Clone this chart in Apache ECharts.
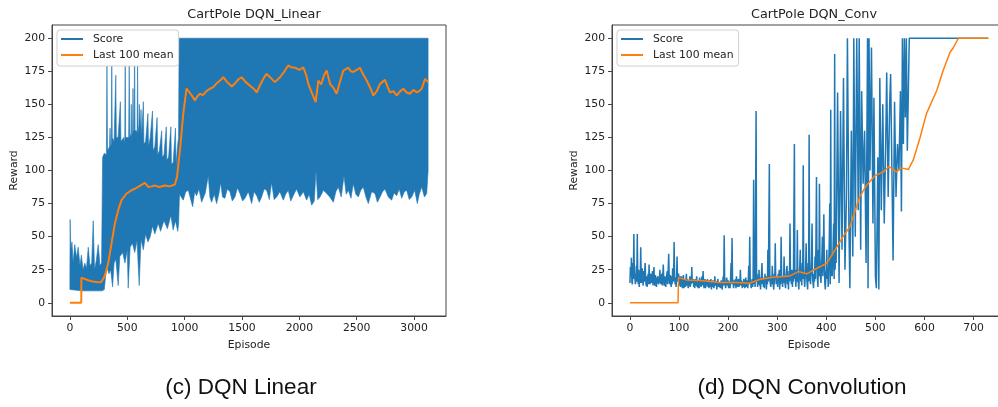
<!DOCTYPE html>
<html><head><meta charset="utf-8">
<script src="https://cdn.jsdelivr.net/npm/echarts@6/dist/echarts.min.js"></script>
<style>html,body{margin:0;padding:0;background:#fff}#c{width:998px;height:407px}</style>
</head><body><div id="c"></div>
<script>
// ---------- DATA ----------
const xTicksLinear = [0, 500, 1000, 1500, 2000, 2500, 3000];
const xTicksConv = [0, 100, 200, 300, 400, 500, 600, 700];
const yTicks = [0, 25, 50, 75, 100, 125, 150, 175, 200];

// DQN Linear: upper envelope of Score [episode, reward]
const linScoreHigh = [[0,25],[2,63],[8,40],[18,46],[28,30],[42,44],[58,34],[72,42],[88,28],[100,36],[115,25],[130,30],[145,26],[160,42],[175,28],[190,30],[203,62],[215,25],[230,32],[247,44],[262,28],[276,30],[285,110],[300,113],[318,112],[323,180],[328,115],[345,118],[350,132],[355,118],[361,120],[365,190],[369,125],[385,122],[400,172],[405,125],[420,125],[440,152],[445,122],[470,125],[478,120],[482,195],[486,125],[505,125],[512,125],[517,180],[522,125],[532,128],[535,150],[538,125],[546,130],[550,162],[554,130],[560,130],[564,200],[568,130],[580,130],[586,128],[590,182],[594,128],[602,135],[605,150],[615,130],[620,146],[625,125],[640,152],[645,120],[660,122],[680,143],[685,118],[700,125],[720,145],[725,115],[740,118],[760,140],[765,112],[780,115],[800,130],[805,110],[820,112],[840,133],[845,108],[860,110],[880,133],[885,105],[900,106],[920,132],[925,104],[940,120],[947,125],[952,200],[3122,200]];
// DQN Linear: lower envelope of Score
const linScoreLow = [[0,10],[100,9],[200,9],[280,9],[300,10],[320,28],[340,22],[355,25],[372,12],[385,30],[400,33],[421,13],[435,35],[460,38],[480,30],[500,40],[508,11],[525,42],[545,45],[565,38],[585,47],[604,13],[620,48],[640,40],[660,52],[680,46],[700,50],[720,58],[740,52],[770,60],[790,54],[820,62],[850,56],[880,66],[900,55],[920,62],[940,54],[948,60],[955,82],[988,77.6],[1010,84],[1032,85],[1050,79],[1070,72.6],[1088,84],[1104,81],[1125,86],[1148,76],[1180,83],[1206,96],[1220,80],[1235,76],[1258,82],[1279,75],[1300,83],[1314,91],[1330,80],[1351,79],[1372,86],[1395,84],[1415,77],[1439,80],[1460,87],[1482,82.6],[1505,77],[1526,79],[1555,84],[1584,75],[1605,84],[1628,81],[1650,76],[1671,80],[1693,86],[1715,85],[1738,78],[1758,91],[1780,78],[1802,80],[1830,84],[1860,77.6],[1880,82],[1903,85],[1925,77],[1947,81],[1975,86],[2005,80],[2035,84],[2063,77.6],[2085,82],[2107,73.8],[2130,77],[2145,100],[2160,78],[2180,80],[2210,85],[2238,82.6],[2265,80],[2296,76],[2318,84],[2339,87.5],[2365,80],[2389,96],[2408,82],[2427,85],[2450,79],[2470,90],[2492,82],[2514,80],[2535,85],[2557,87.5],[2580,80],[2601,75],[2630,84],[2659,82.6],[2680,76],[2703,80],[2725,84],[2746,86],[2775,80],[2805,77.6],[2825,83],[2848,81],[2870,86],[2892,79],[2915,84],[2935,85],[2958,78],[2979,80],[3005,85],[3028,75],[3045,82],[3066,87.5],[3090,80],[3110,82.6],[3122,100]];
// DQN Linear: Last 100 mean
const linMean = [[0,0],[99,0],[100,19],[130,18],[160,17],[200,16],[240,15.5],[270,15.5],[291,18],[310,22],[334,30],[363,45],[392,60],[421,70],[450,77.6],[494,82.6],[537,85],[560,86],[596,87.6],[620,89],[654,90.7],[683,87.6],[710,88],[741,88.6],[780,87.5],[828,88.6],[870,88],[915,89.4],[933,95],[959,115],[988,143],[1017,162],[1032,162.5],[1060,157],[1090,153],[1110,156],[1133,158],[1160,157],[1190,160],[1221,161.8],[1250,163],[1280,166],[1310,168],[1337,170.5],[1370,167],[1410,163.5],[1440,166],[1470,169],[1497,170.5],[1530,167],[1570,164],[1600,162],[1628,159],[1660,165],[1690,170],[1715,173],[1750,170],[1787,166.8],[1831,170.5],[1870,175],[1903,179.4],[1930,178],[1962,177.7],[2000,176],[2034,178],[2060,172],[2078,165.5],[2107,159],[2142,151.7],[2165,168],[2190,165],[2215,172],[2238,175.6],[2267,165.5],[2300,162],[2325,158],[2350,166],[2383,175.6],[2427,177.7],[2450,175],[2470,174.5],[2500,176],[2528,177.7],[2560,172],[2587,168],[2620,162],[2645,156.7],[2675,160],[2703,165.5],[2746,168.5],[2770,163],[2790,159],[2820,160],[2848,156.7],[2880,160],[2906,161.8],[2935,159],[2964,158],[2995,161],[3023,159],[3045,160],[3066,161.8],[3095,169.3],[3110,168],[3122,166.8]];

// DQN Conv: Score [episode, reward]
const convScore = [[0,15],[1,27],[2,20],[3,34],[4,16],[5,14],[6,30],[7,18],[8,52],[9,22],[10,20],[11,14],[12,17],[13,28],[14,16],[15,52],[16,20],[17,14],[18,25],[19,12],[20,20],[21,15],[22,42],[23,18],[24,15],[25,26],[26,17],[27,13],[28,24],[29,16],[31,30],[32,18],[33,13],[34,20],[35,12],[36,16],[37,22],[38,14],[39,29],[40,17],[41,14],[42,22],[44,15],[45,20],[46,24],[47,13],[49,27],[50,15],[51,13],[52,21],[54,12],[55,18],[57,20],[58,14],[60,16],[61,25],[62,18],[63,14],[65,22],[66,13],[68,29],[69,16],[70,13],[71,20],[73,12],[74,18],[76,24],[77,14],[79,37],[80,19],[81,14],[82,21],[83,15],[84,12],[85,20],[86,14],[87,26],[88,16],[89,18],[90,46],[91,20],[92,14],[93,19],[94,12],[95,18],[96,35],[97,16],[98,15],[99,22],
[100,17],[101,13],[102,20],[103,12],[104,18],[105,20],[106,14],[107,11],[108,17],[109,21],[110,11],[111,15],[112,18],[113,12],[114,16],[115,22],[116,13],[117,18],[118,13],[119,11],[120,17],[121,13],[122,20],[123,12],[124,19],[125,14],[126,27],[127,15],[128,14],[129,18],[130,12],[131,16],[132,11],[133,18],[134,13],[135,16],[136,20],[137,12],[138,15],[139,11],[140,17],[141,11],[142,19],[143,13],[144,16],[145,12],[146,18],[147,20],[148,13],[149,24],[150,15],[151,11],[152,13],[153,18],[154,11],[155,12],[156,17],[157,13],[158,18],[159,12],[160,15],[161,11],[162,17],[163,14],[164,12],[165,18],[166,10],[167,15],[168,12],[169,17],[170,16],[171,11],[172,14],[173,20],[174,13],[175,12],[176,16],[177,10],[178,11],[179,18],[180,17],[181,12],[182,15],[183,16],[184,11],[185,12],[186,17],[187,13],[188,10],[189,15],[190,20],[191,13],[192,51],[193,16],[194,14],[195,11],[196,12],[197,19],[198,18],[199,13],[200,17],[201,11],[202,12],[203,16],[204,11],[205,18],[206,30],[207,14],[208,49],[209,18],[210,16],[211,11],[212,12],[213,17],[214,13],[215,18],[216,11],[217,20],[218,14],[219,12],[220,13],[221,18],[222,12],[223,11],[224,16],[225,25],[226,13],[227,17],[228,14],[229,11],[230,16],[231,12],[232,18],[233,16],[234,11],[235,14],[236,19],[237,12],[238,13],[239,17],[240,11],[241,15],[242,28],[243,14],[244,50],[245,17],[246,15],[247,11],[248,12],[249,18],
[250,12],[251,18],[252,93],[253,14],[254,20],[255,12],[257,145],[258,16],[259,22],[260,12],[261,18],[262,14],[263,25],[264,13],[265,19],[266,10],[267,16],[268,22],[269,30],[270,14],[271,19],[272,12],[273,17],[274,11],[275,22],[276,15],[277,20],[278,10],[279,18],[280,14],[281,40],[282,16],[284,105],[285,18],[286,14],[287,12],[288,20],[289,14],[290,28],[291,16],[292,13],[293,10],[294,22],[295,14],[296,45],[297,18],[298,20],[299,14],[300,16],[301,12],[302,22],[303,15],[304,25],[305,10],[306,18],[307,14],[308,50],[309,20],[310,17],[311,12],[312,20],[313,15],[314,35],[315,18],[316,14],[317,11],[318,19],[319,25],[320,28],[321,14],[322,18],[323,10],[324,24],[325,16],[326,60],[327,22],[328,18],[329,14],[330,25],[331,12],[332,20],[333,16],[335,120],[336,18],[337,20],[338,12],[339,25],[340,16],[341,55],[342,18],[343,15],[344,10],[345,20],[346,28],[347,40],[348,16],[349,22],[350,13],[351,30],[352,18],[353,104],[354,20],[355,18],[356,12],[357,20],[358,28],[359,45],[360,20],[361,14],[362,10],[363,30],[364,16],[365,127],[366,22],[367,18],[368,14],[369,25],[370,35],[371,60],[372,20],[373,15],[374,11],[375,22],[376,16],[377,35],[378,18],[379,50],[380,95],[381,30],[382,18],[383,12],[384,40],[385,20],[386,90],[387,35],[388,20],[389,15],[390,25],[391,35],[392,50],[393,20],[394,40],[395,67],[396,30],[397,15],[398,10],[399,20],[400,25],[401,40],[402,18],[403,22],[404,12],[405,30],[406,45],[407,75],[408,14],[409,146],[410,20],[411,35],[412,20],[413,30],[414,45],[415,60],[416,18],[417,188],[418,25],[419,50],[420,30],
[423,159],[426,15],[429,145],[432,40],[435,170],[438,25],[441,80],[443,200],[446,60],[448,11],[451,130],[454,35],[456,200],[459,50],[462,200],[465,70],[467,200],[470,40],[472,160],[475,90],[478,130],[481,30],[484,200],[485,11],[487,200],[489,100],[492,193],[495,60],[497,155],[500,20],[502,11],[505,110],[507,10],[509,170],[512,70],[515,150],[518,60],[521,120],[523,174],[526,80],[529,150],[531,173],[534,90],[536,32],[539,152],[542,80],[545,120],[548,100],[551,160],[553,69],[555,200],[557,120],[559,200],[561,140],[563,200],[565,115],[567,114],[569,200],[730,200]];
// DQN Conv: Last 100 mean
const convMean = [[0,0],[98,0],[99,19],[115,17.3],[149,16.6],[183,15.3],[217,15.3],[244,14.8],[265,17.8],[292,19.3],[326,20.3],[343,23.6],[360,21.9],[380,25.9],[401,29.9],[418,40],[434,50],[448,57.5],[458,68.8],[468,80],[482,88.9],[499,96],[516,99],[528,103],[543,99],[553,102],[567,100.7],[577,107.8],[591,125],[604,143],[625,160.5],[638,175.6],[652,189.4],[659,193],[669,200],[730,200]];

// ---------- CHART ----------
const BLUE = '#1f77b4', ORANGE = '#ff7f0e';
const FONT = 'DejaVu Sans';
const chart = echarts.init(document.getElementById('c'), null, {renderer: 'canvas'});

function xAxisCfg(gi, min, max, ticks) {
  return {
    type: 'value', gridIndex: gi, min: min, max: max,
    name: 'Episode', nameLocation: 'middle', nameGap: 24,
    nameTextStyle: {fontFamily: FONT, fontSize: 10.8, color: '#222'},
    axisLine: {show: true, onZero: false, lineStyle: {color: '#444', width: 1}},
    axisTick: {show: true, length: 4, customValues: ticks, lineStyle: {color: '#444'}},
    axisLabel: {customValues: ticks, margin: 7, fontFamily: FONT, fontSize: 10.8, color: '#222',
                formatter: function (v) { return String(v); }},
    splitLine: {show: false}
  };
}
function yAxisCfg(gi) {
  return {
    type: 'value', gridIndex: gi, min: -10, max: 210,
    name: 'Reward', nameLocation: 'middle', nameGap: 32, nameRotate: 90,
    nameTextStyle: {fontFamily: FONT, fontSize: 10.8, color: '#222'},
    axisLine: {show: true, onZero: false, lineStyle: {color: '#444', width: 1}},
    axisTick: {show: true, length: 4, customValues: yTicks, lineStyle: {color: '#444'}},
    axisLabel: {customValues: yTicks, margin: 7, fontFamily: FONT, fontSize: 10.8, color: '#222',
                formatter: function (v) { return String(v); }},
    splitLine: {show: false}
  };
}
function legendCfg(left) {
  return {
    left: left, top: 30, orient: 'vertical',
    data: ['Score', 'Last 100 mean'],
    icon: 'rect', itemWidth: 22, itemHeight: 2, itemGap: 4,
    padding: [3, 5, 5, 4],
    backgroundColor: '#fff', borderColor: '#d0d0d0', borderWidth: 1, borderRadius: 3,
    textStyle: {fontFamily: FONT, fontSize: 10.8, color: '#222', lineHeight: 12, padding: [0, 0, 0, 5]},
    selectedMode: false
  };
}

// band polygon between the two envelopes, mapped through the axes
function bandRender(params, api) {
  const pts = linScoreHigh.map(function (p) { return api.coord(p); })
    .concat(linScoreLow.slice().reverse().map(function (p) { return api.coord(p); }));
  return {type: 'polygon', shape: {points: pts},
          style: {fill: BLUE, stroke: BLUE, lineWidth: 0.6}};
}

chart.setOption({
  animation: false,
  backgroundColor: '#fff',
  title: [
    {text: 'CartPole DQN_Linear', left: 249, top: 3, textAlign: 'center',
     textStyle: {fontFamily: FONT, fontSize: 12.8, fontWeight: 'normal', color: '#222'}},
    {text: 'CartPole DQN_Conv', left: 809, top: 3, textAlign: 'center',
     textStyle: {fontFamily: FONT, fontSize: 12.8, fontWeight: 'normal', color: '#222'}},
    {text: '(c) DQN Linear', left: 236, top: 371, textAlign: 'center',
     textStyle: {fontFamily: 'Liberation Sans', fontSize: 22.5, fontWeight: 'normal', color: '#111'}},
    {text: '(d) DQN Convolution', left: 797, top: 371, textAlign: 'center',
     textStyle: {fontFamily: 'Liberation Sans', fontSize: 22.5, fontWeight: 'normal', color: '#111'}}
  ],
  grid: [
    {left: 52, top: 25, width: 394, height: 291, show: true, borderColor: '#444', borderWidth: 1,
     backgroundColor: 'transparent', outerBoundsMode: 'none', containLabel: false},
    {left: 612, top: 25, width: 394, height: 291, show: true, borderColor: '#444', borderWidth: 1,
     backgroundColor: 'transparent', outerBoundsMode: 'none', containLabel: false}
  ],
  xAxis: [xAxisCfg(0, -156, 3278, xTicksLinear), xAxisCfg(1, -36.5, 766, xTicksConv)],
  yAxis: [yAxisCfg(0), yAxisCfg(1)],
  legend: [legendCfg(57), legendCfg(617)],
  series: [
    {name: 'Score', type: 'custom', xAxisIndex: 0, yAxisIndex: 0, data: [[0, 0]],
     renderItem: bandRender, itemStyle: {color: BLUE}, color: BLUE, z: 2, silent: true},
    {name: 'Last 100 mean', type: 'line', xAxisIndex: 0, yAxisIndex: 0, data: linMean,
     symbol: 'none', color: ORANGE, lineStyle: {width: 2, color: ORANGE}, z: 4},
    {name: 'Score', type: 'line', xAxisIndex: 1, yAxisIndex: 1, data: convScore,
     symbol: 'none', color: BLUE, lineStyle: {width: 1.5, color: BLUE}, z: 2},
    {name: 'Last 100 mean', type: 'line', xAxisIndex: 1, yAxisIndex: 1, data: convMean,
     symbol: 'none', color: ORANGE, lineStyle: {width: 1.5, color: ORANGE}, z: 4}
  ]
});
</script></body></html>
